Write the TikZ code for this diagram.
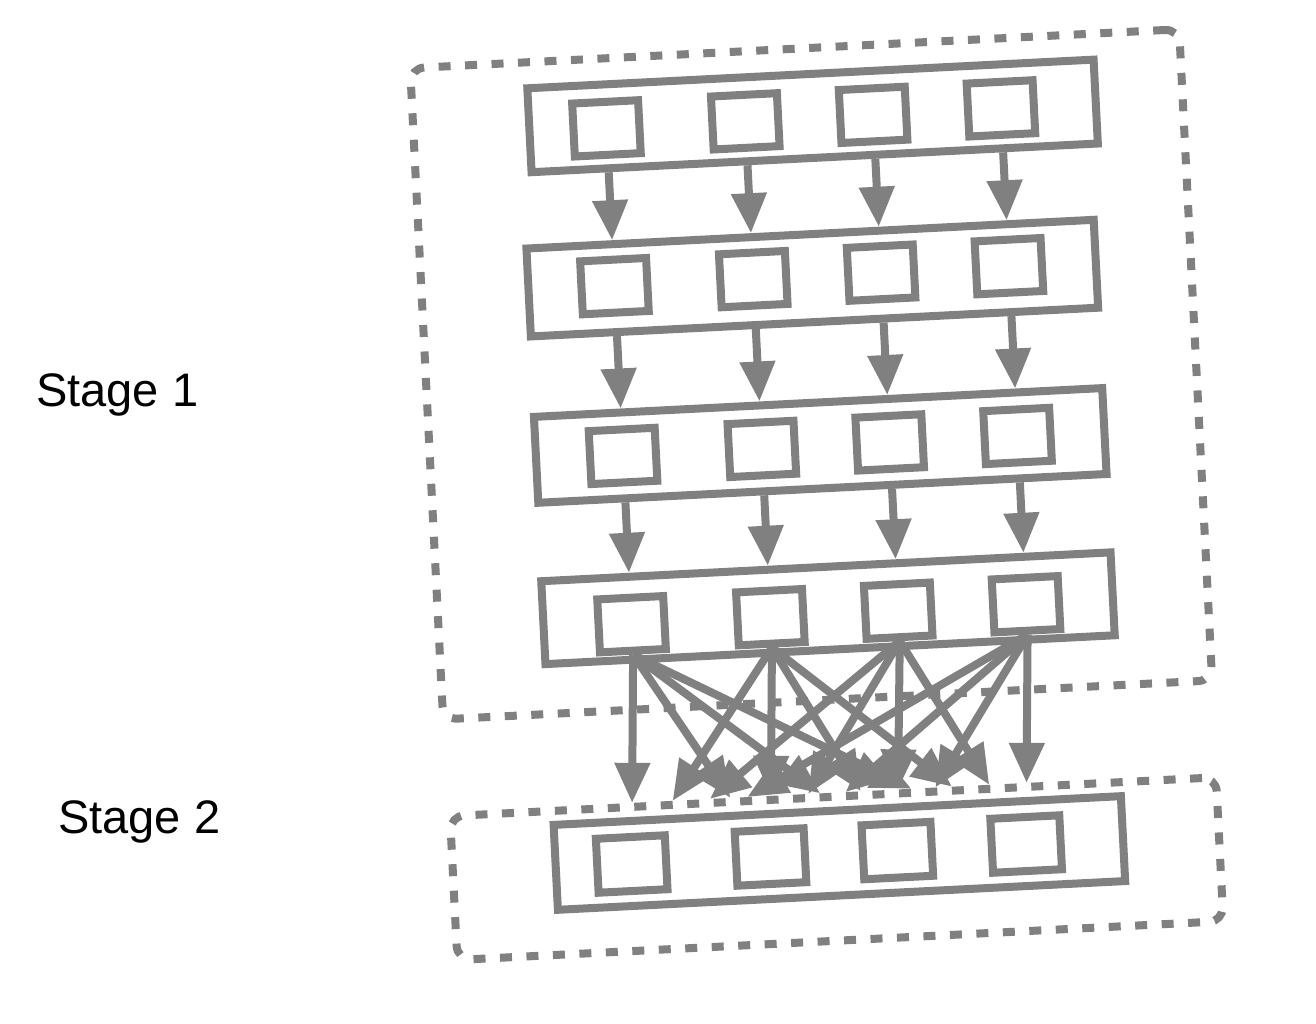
\documentclass[tikz,border=0pt]{standalone}
\usepackage{fontspec}
\setmainfont{Liberation Sans}
\usetikzlibrary{arrows.meta,calc}
\definecolor{gry}{RGB}{128,128,128}
\begin{document}
\begin{tikzpicture}[x=1pt,y=1pt,
  rowbox/.style={draw=gry,line width=8pt,inner sep=0pt,transform shape},
  sqbox/.style={draw=gry,line width=8pt,inner sep=0pt,minimum width=66pt,minimum height=53pt,transform shape},
  sqwide/.style={sqbox,minimum width=69pt,minimum height=54pt},
  cluster/.style={draw=gry,line width=8pt,dash pattern=on 12pt off 14.5pt,rounded corners=14pt,inner sep=0pt,transform shape},
  arr/.style={draw=gry,line width=8pt,-{Triangle[width=34pt,length=40pt]}},
  lbl/.style={font=\fontsize{47}{56}\selectfont,text=black,inner sep=0pt,anchor=base west}]
\useasboundingbox (0,-1023) rectangle (1316,0);
\node[lbl] (t1) at (36,-406) {Stage 1};
\node[lbl] (t2) at (58,-833) {Stage 2};
\begin{scope}[shift={(820,-490)},rotate=2.9]
  % clusters
  \node[cluster,minimum width=770pt,minimum height=652pt] (c1) at (-3,116) {};
  \node[cluster,minimum width=767pt,minimum height=144pt] (c2) at (-2.5,-379) {};
  % row boxes
  \node[rowbox,minimum width=567pt,minimum height=84pt] (r1) at (11.5,374) {};
  \node[rowbox,minimum width=568pt,minimum height=88pt] (r2) at (3,212) {};
  \node[rowbox,minimum width=569pt,minimum height=86pt] (r3) at (2.5,44.5) {};
  \node[rowbox,minimum width=570pt,minimum height=83pt] (r4) at (2,-118.5) {};
  \node[rowbox,minimum width=568pt,minimum height=85pt] (r5) at (1,-363.5) {};
  % squares rows 1-4
  \foreach \r/\y in {1/372,2/214,3/44,4/-124.5}{
    \node[sqbox] (s\r1) at (-195,\y) {};
    \node[sqbox] (s\r2) at (-56,\y) {};
    \node[sqbox] (s\r3) at (72,\y) {};
    \node[sqbox] (s\r4) at (200,\y) {};
  }
  % squares stage 2
  \node[sqwide] (s51) at (-207,-364) {};
  \node[sqwide] (s52) at (-68,-364) {};
  \node[sqwide] (s53) at (59,-364) {};
  \node[sqwide] (s54) at (188,-364) {};
  % vertical arrows between rows
  \foreach \r/\n in {1/2,2/3,3/4}{
    \foreach \c in {1,2,3,4}{
      \draw[arr] ($(r\r.south west)!(s\r\c)!(r\r.south east)$) -- ($(r\n.north west)!(s\n\c)!(r\n.north east)$);
    }
  }
  % full connection to stage 2
  \foreach \i in {1,2,3,4}{
    \foreach \j in {1,2,3,4}{
      \draw[arr] (s4\i.south) -- ($(s4\i.south)!0.708!(s5\j)$);
    }
  }
\end{scope}
\end{tikzpicture}
\end{document}
